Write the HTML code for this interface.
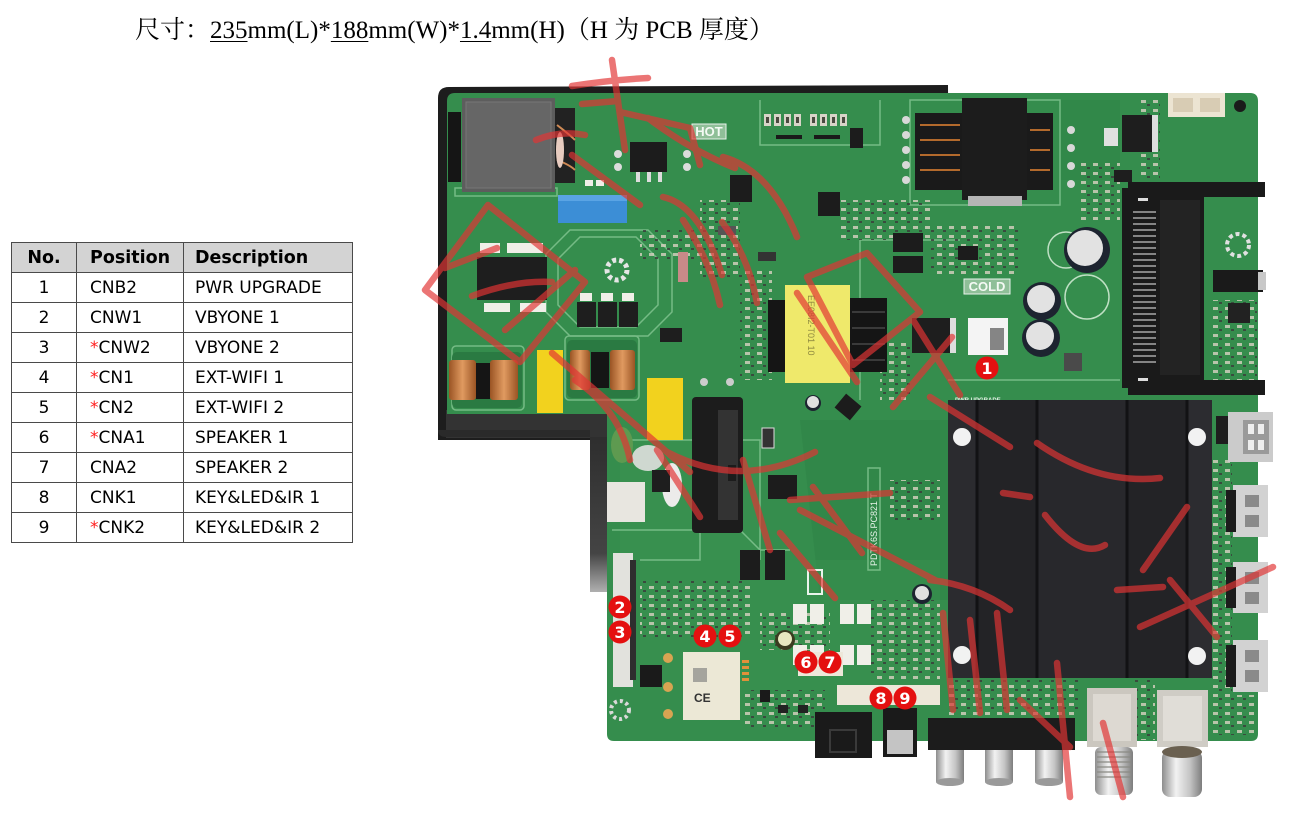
<!DOCTYPE html>
<html><head><meta charset="utf-8">
<style>
html,body{margin:0;padding:0;background:#fff;}
body{width:1292px;height:814px;position:relative;overflow:hidden;}
.title{position:absolute;left:135px;top:14px;font-family:"Liberation Serif","Noto Serif CJK SC",serif;font-size:25px;color:#000;white-space:nowrap;line-height:34px;}
.title u{text-decoration:underline;text-underline-offset:3px;text-decoration-thickness:1px;}
table{position:absolute;left:11px;top:242px;border-collapse:collapse;table-layout:fixed;font-family:"DejaVu Sans","Liberation Sans",sans-serif;font-size:17px;color:#000;}
td,th{border:1px solid #4a4a4a;padding:0;height:29px;white-space:nowrap;}
th{background:#d3d3d3;font-weight:bold;text-align:left;height:29px;font-size:17.5px;}
td.n,th.n{text-align:center;}
td.p,th.p{padding-left:13px;}
td.d,th.d{padding-left:11px;}
.r{color:#ff2020;}
</style></head><body>
<div class="title">尺寸：<u>235</u>mm(L)*<u>188</u>mm(W)*<u>1.4</u>mm(H)（H 为 PCB 厚度）</div>
<table>
<colgroup><col style="width:65px"><col style="width:107px"><col style="width:169px"></colgroup>
<tr><th class="n">No.</th><th class="p">Position</th><th class="d">Description</th></tr>
<tr><td class="n">1</td><td class="p">CNB2</td><td class="d">PWR UPGRADE</td></tr>
<tr><td class="n">2</td><td class="p">CNW1</td><td class="d">VBYONE 1</td></tr>
<tr><td class="n">3</td><td class="p"><span class="r">*</span>CNW2</td><td class="d">VBYONE 2</td></tr>
<tr><td class="n">4</td><td class="p"><span class="r">*</span>CN1</td><td class="d">EXT-WIFI 1</td></tr>
<tr><td class="n">5</td><td class="p"><span class="r">*</span>CN2</td><td class="d">EXT-WIFI 2</td></tr>
<tr><td class="n">6</td><td class="p"><span class="r">*</span>CNA1</td><td class="d">SPEAKER 1</td></tr>
<tr><td class="n">7</td><td class="p">CNA2</td><td class="d">SPEAKER 2</td></tr>
<tr><td class="n">8</td><td class="p">CNK1</td><td class="d">KEY&amp;LED&amp;IR 1</td></tr>
<tr><td class="n">9</td><td class="p"><span class="r">*</span>CNK2</td><td class="d">KEY&amp;LED&amp;IR 2</td></tr>
</table>

<svg width="1292" height="814" style="position:absolute;left:0;top:0" xmlns="http://www.w3.org/2000/svg">
<defs>
<pattern id="smd" width="12" height="9" patternUnits="userSpaceOnUse">
<rect x="1" y="1" width="5" height="3" fill="#d9d2c2"/>
<rect x="7" y="5" width="3" height="2" fill="#3a3a3a"/>
</pattern>
<pattern id="smd2" width="8" height="14" patternUnits="userSpaceOnUse">
<rect x="1" y="1" width="5" height="8" fill="#e6e2d6"/>
<rect x="2" y="3" width="3" height="4" fill="#6a5a3a"/>
</pattern>
<linearGradient id="silv" x1="0" x2="1" y1="0" y2="0">
<stop offset="0" stop-color="#8d8d8d"/><stop offset=".35" stop-color="#f2f2f2"/><stop offset=".7" stop-color="#c4c4c4"/><stop offset="1" stop-color="#7d7d7d"/>
</linearGradient>
<linearGradient id="strip" x1="0" x2="0" y1="0" y2="1">
<stop offset="0" stop-color="#2e2e2e"/><stop offset=".75" stop-color="#444"/><stop offset="1" stop-color="#b0b0b0"/>
</linearGradient>
<linearGradient id="copper" x1="0" x2="1">
<stop offset="0" stop-color="#9a5424"/><stop offset=".5" stop-color="#e09a60"/><stop offset="1" stop-color="#9a5424"/>
</linearGradient>
</defs>

<!-- black backing plate -->
<path d="M438,98 Q438,87 449,87 L948,85 L950,420 L607,420 L607,440 L438,440 Z" fill="#1d1d1d"/>
<rect x="446" y="410" width="161" height="28" fill="#333"/>
<path d="M590,437 L607,437 L607,592 L590,592 Z" fill="url(#strip)"/>
<path d="M438,430 Q438,437 446,437 L590,437 L590,430 Z" fill="#2a2a2a"/>

<!-- green PCB -->
<path d="M447,101 Q447,93 455,93 L1250,93 Q1258,93 1258,101 L1258,734 Q1258,741 1251,741 L614,741 Q607,741 607,734 L607,414 L447,414 Z" fill="#358d4d"/>
<!-- plane shading -->
<path d="M620,430 L760,430 L760,560 L620,560 Z" fill="#3a9352" opacity=".6"/>
<path d="M800,420 L948,420 L948,600 L820,600 Z" fill="#2e8347" opacity=".6"/>
<path d="M640,560 L940,560 L940,690 L640,690 Z" fill="#39914f" opacity=".5"/>
<path d="M1060,100 L1120,100 L1120,180 L1060,180 Z" fill="#2f8547" opacity=".6"/>
<!-- silkscreen outlines -->
<g fill="none" stroke="#86c794" stroke-width="1.5" opacity=".8">
<polygon points="580,237 636,237 658,259 658,305 636,327 580,327 558,305 558,259"/>
<polygon points="570,230 648,230 672,254 672,312 648,336 570,336 546,312 546,254"/>
<rect x="455" y="188" width="102" height="8"/>
<rect x="452" y="346" width="72" height="64" rx="4"/>
<rect x="565" y="336" width="74" height="64" rx="4"/>
<polyline points="620,440 760,440 760,560"/>
<polyline points="612,530 740,530 760,550 790,550"/>
<polyline points="860,400 860,240 960,240"/>
<rect x="910" y="100" width="150" height="105"/>
<polyline points="760,100 760,145 880,145 880,100"/>
<polyline points="700,480 700,560 640,560"/>
<rect x="868" y="468" width="12" height="102"/>
<polyline points="948,380 1120,380"/>
</g>
<text x="0" y="0" transform="translate(877,566) rotate(-90)" font-family="Liberation Sans, sans-serif" font-size="9" fill="#e8f4ea">PDTK6S.PC821 T</text>

<!-- resistor banks top middle -->
<g fill="#d8d4c8">
<rect x="764" y="114" width="7" height="12"/><rect x="774" y="114" width="7" height="12"/><rect x="784" y="114" width="7" height="12"/><rect x="794" y="114" width="7" height="12"/>
<rect x="810" y="114" width="7" height="12"/><rect x="820" y="114" width="7" height="12"/><rect x="830" y="114" width="7" height="12"/><rect x="840" y="114" width="7" height="12"/>
</g>
<g fill="#4a4a40"><rect x="766" y="117" width="3" height="6"/><rect x="776" y="117" width="3" height="6"/><rect x="786" y="117" width="3" height="6"/><rect x="796" y="117" width="3" height="6"/><rect x="812" y="117" width="3" height="6"/><rect x="822" y="117" width="3" height="6"/><rect x="832" y="117" width="3" height="6"/><rect x="842" y="117" width="3" height="6"/></g>
<rect x="776" y="135" width="26" height="4" fill="#1a1a1a"/><rect x="814" y="135" width="26" height="4" fill="#1a1a1a"/>

<!-- SMD texture regions -->
<g opacity=".8">
<rect x="740" y="270" width="32" height="110" fill="url(#smd)"/>
<rect x="880" y="340" width="30" height="60" fill="url(#smd)"/>
<rect x="840" y="200" width="90" height="40" fill="url(#smd)"/>
<rect x="930" y="225" width="90" height="50" fill="url(#smd)"/>
<rect x="1080" y="160" width="40" height="60" fill="url(#smd)"/>
<rect x="1212" y="300" width="45" height="90" fill="url(#smd)"/>
<rect x="1212" y="460" width="20" height="250" fill="url(#smd)"/>
<rect x="640" y="580" width="110" height="60" fill="url(#smd)"/>
<rect x="760" y="610" width="70" height="40" fill="url(#smd)"/>
<rect x="745" y="690" width="80" height="40" fill="url(#smd)"/>
<rect x="870" y="600" width="70" height="80" fill="url(#smd)"/>
<rect x="640" y="230" width="60" height="30" fill="url(#smd)"/>
<rect x="700" y="200" width="40" height="80" fill="url(#smd)"/>
<rect x="890" y="480" width="50" height="40" fill="url(#smd)"/>
<rect x="1140" y="100" width="20" height="80" fill="url(#smd)"/>
<rect x="948" y="680" width="130" height="35" fill="url(#smd)"/>
<rect x="1135" y="680" width="20" height="60" fill="url(#smd)"/>
<rect x="1210" y="695" width="45" height="40" fill="url(#smd)"/>
</g>
<!-- white power pads -->
<g fill="#f0efe8">
<rect x="793" y="604" width="14" height="20"/><rect x="810" y="604" width="14" height="20"/><rect x="840" y="604" width="14" height="20"/><rect x="857" y="604" width="14" height="20"/>
<rect x="793" y="645" width="14" height="20"/><rect x="810" y="645" width="14" height="20"/><rect x="840" y="645" width="14" height="20"/><rect x="857" y="645" width="14" height="20"/>
<rect x="480" y="243" width="20" height="10"/><rect x="507" y="243" width="36" height="10"/>
<rect x="484" y="303" width="26" height="9"/><rect x="520" y="303" width="26" height="9"/>
<rect x="580" y="293" width="12" height="8"/><rect x="601" y="293" width="12" height="8"/><rect x="622" y="293" width="12" height="8"/>
<rect x="585" y="180" width="8" height="6"/><rect x="596" y="180" width="8" height="6"/>
</g>

<!-- big inductor top-left -->
<rect x="448" y="112" width="13" height="70" fill="#151515"/>
<rect x="462" y="98" width="93" height="94" fill="#5d5d5d"/>
<rect x="466" y="102" width="85" height="86" fill="#666" stroke="#777"/>
<rect x="555" y="108" width="20" height="75" fill="#222"/>
<path d="M557,125 Q570,135 575,140 M557,160 Q570,165 575,170" stroke="#d08a55" stroke-width="2" fill="none"/>
<ellipse cx="560" cy="150" rx="4" ry="18" fill="#e8ccc0"/>
<!-- blue cap -->
<rect x="558" y="195" width="69" height="28" fill="#3c8ed6"/>
<rect x="558" y="195" width="69" height="6" fill="#5aa4e4"/>
<!-- HOT label -->
<rect x="692" y="124" width="34" height="15" fill="#8fbf98" stroke="#e8f2ea"/>
<text x="709" y="136" text-anchor="middle" font-family="Liberation Sans, sans-serif" font-weight="bold" font-size="13" fill="#f4faf4">HOT</text>
<!-- chips -->
<rect x="630" y="142" width="37" height="30" fill="#1c1c1c"/>
<rect x="636" y="172" width="4" height="10" fill="#ddd"/><rect x="647" y="172" width="4" height="10" fill="#ddd"/><rect x="658" y="172" width="4" height="10" fill="#ddd"/>
<circle cx="618" cy="154" r="4" fill="#dcdcdc"/><circle cx="618" cy="167" r="4" fill="#dcdcdc"/><circle cx="687" cy="154" r="4" fill="#dcdcdc"/><circle cx="687" cy="167" r="4" fill="#dcdcdc"/>
<rect x="730" y="175" width="22" height="27" fill="#1c1c1c"/>
<rect x="818" y="192" width="22" height="24" fill="#1c1c1c"/>
<rect x="850" y="128" width="13" height="20" fill="#1c1c1c"/>
<rect x="893" y="233" width="30" height="19" fill="#1c1c1c"/>
<rect x="893" y="256" width="30" height="17" fill="#1c1c1c"/>
<rect x="958" y="246" width="20" height="14" fill="#1c1c1c"/>
<rect x="477" y="257" width="70" height="43" fill="#1e1e1e"/>
<rect x="577" y="302" width="19" height="25" fill="#1e1e1e"/>
<rect x="598" y="302" width="19" height="25" fill="#1e1e1e"/>
<rect x="619" y="302" width="19" height="25" fill="#1e1e1e"/>
<circle cx="617" cy="270" r="10" fill="none" stroke="#e6e6e6" stroke-width="5" stroke-dasharray="4 3"/>
<rect x="660" y="328" width="22" height="14" fill="#1e1e1e"/>
<rect x="678" y="252" width="10" height="30" fill="#c98a88"/>
<rect x="718" y="226" width="18" height="9" fill="#555"/>
<rect x="758" y="252" width="18" height="9" fill="#333"/>
<!-- chokes -->
<rect x="452" y="352" width="70" height="56" rx="5" fill="#2a7a42"/>
<rect x="449" y="360" width="27" height="40" rx="3" fill="url(#copper)"/>
<rect x="476" y="363" width="14" height="36" fill="#151515"/>
<rect x="490" y="360" width="28" height="40" rx="3" fill="url(#copper)"/>
<rect x="567" y="340" width="70" height="58" rx="5" fill="#2a7a42"/>
<rect x="570" y="350" width="20" height="40" rx="3" fill="url(#copper)"/>
<rect x="591" y="352" width="18" height="36" fill="#151515"/>
<rect x="610" y="350" width="25" height="40" rx="3" fill="url(#copper)"/>
<!-- yellow caps -->
<rect x="537" y="350" width="26" height="63" fill="#f2d21e"/>
<rect x="647" y="378" width="36" height="62" fill="#f2d21e"/>
<!-- white blobs / connectors left-middle -->
<ellipse cx="648" cy="458" rx="16" ry="13" fill="#cfd8d0"/>
<ellipse cx="672" cy="485" rx="10" ry="22" fill="#ecebea"/>
<ellipse cx="622" cy="445" rx="11" ry="18" fill="#5e9a50"/>
<rect x="607" y="482" width="38" height="40" fill="#e8e6e0"/>
<rect x="652" y="470" width="18" height="22" fill="#1e1e1e"/>
<!-- lying electrolytic -->
<rect x="692" y="397" width="51" height="136" rx="4" fill="#1c1c1c"/>
<rect x="718" y="410" width="20" height="110" fill="#333"/>
<circle cx="704" cy="382" r="4" fill="#ccc"/><circle cx="730" cy="382" r="4" fill="#ccc"/>
<rect x="762" y="428" width="12" height="20" fill="#333" stroke="#ddd"/>
<rect x="768" y="475" width="29" height="24" fill="#1c1c1c"/>
<rect x="740" y="550" width="20" height="30" fill="#1c1c1c"/>
<rect x="765" y="550" width="20" height="30" fill="#1c1c1c"/>
<rect x="838" y="398" width="20" height="18" fill="#1c1c1c" transform="rotate(40 848 407)"/>
<rect x="728" y="465" width="8" height="16" fill="#1c1c1c"/>
<!-- yellow transformer -->
<rect x="768" y="300" width="17" height="72" fill="#151515"/>
<rect x="850" y="298" width="37" height="74" fill="#151515"/>
<g stroke="#3a3a3a" stroke-width="2"><line x1="852" y1="312" x2="885" y2="312"/><line x1="852" y1="328" x2="885" y2="328"/><line x1="852" y1="344" x2="885" y2="344"/><line x1="852" y1="360" x2="885" y2="360"/></g>
<rect x="785" y="285" width="65" height="98" fill="#efe96b"/>
<text x="0" y="0" transform="translate(808,295) rotate(90)" font-family="Liberation Sans, sans-serif" font-size="9" fill="#8f8a40">EE08I2-T01 10</text>
<!-- chip near COLD, QR label -->
<rect x="912" y="318" width="38" height="35" fill="#1e1e1e"/>
<rect x="950" y="318" width="6" height="35" fill="#ddd"/>
<rect x="968" y="318" width="40" height="37" fill="#f4f4f4"/>
<rect x="990" y="328" width="14" height="22" fill="#555" opacity=".7"/>
<rect x="964" y="279" width="46" height="15" fill="#8fbf98" stroke="#e8f2ea"/>
<text x="987" y="291" text-anchor="middle" font-family="Liberation Sans, sans-serif" font-weight="bold" font-size="13" fill="#f4faf4">COLD</text>
<text x="955" y="402" font-family="Liberation Sans, sans-serif" font-weight="bold" font-size="6" fill="#e6f2e8">PWR UPGRADE</text>
<!-- top transformer -->
<rect x="915" y="113" width="47" height="77" fill="#1a1a1a"/>
<rect x="1027" y="113" width="26" height="77" fill="#1a1a1a"/>
<g stroke="#b36a2c" stroke-width="2"><line x1="920" y1="125" x2="960" y2="125"/><line x1="920" y1="140" x2="960" y2="140"/><line x1="920" y1="155" x2="960" y2="155"/><line x1="920" y1="170" x2="960" y2="170"/><line x1="1030" y1="130" x2="1050" y2="130"/><line x1="1030" y1="150" x2="1050" y2="150"/><line x1="1030" y1="170" x2="1050" y2="170"/></g>
<rect x="962" y="98" width="65" height="102" fill="#1c1c1c"/>
<rect x="968" y="196" width="54" height="10" fill="#b5b5b5"/>
<g fill="#d8d8d8"><circle cx="906" cy="120" r="4"/><circle cx="906" cy="135" r="4"/><circle cx="906" cy="150" r="4"/><circle cx="906" cy="165" r="4"/><circle cx="906" cy="180" r="4"/><circle cx="1071" cy="130" r="4"/><circle cx="1071" cy="148" r="4"/><circle cx="1071" cy="166" r="4"/><circle cx="1071" cy="184" r="4"/></g>
<!-- top right -->
<rect x="1168" y="93" width="57" height="24" fill="#ece4d2"/>
<rect x="1173" y="98" width="20" height="14" fill="#d8ccb4"/><rect x="1200" y="98" width="20" height="14" fill="#d8ccb4"/>
<circle cx="1240" cy="106" r="6" fill="#1a1a1a"/>
<rect x="1122" y="115" width="31" height="37" fill="#1e1e1e"/>
<rect x="1152" y="115" width="6" height="37" fill="#ddd"/>
<rect x="1104" y="128" width="14" height="18" fill="#e0e0e0"/>
<rect x="1114" y="170" width="18" height="12" fill="#1e1e1e"/>
<rect x="1228" y="303" width="22" height="20" fill="#222"/>
<circle cx="1238" cy="245" r="11" fill="none" stroke="#e0e0e0" stroke-width="4" stroke-dasharray="4 3"/>
<!-- electrolytic caps -->
<circle cx="1087" cy="297" r="22" fill="none" stroke="#bfe0c4" stroke-width="1.5"/>
<circle cx="1066" cy="250" r="18" fill="none" stroke="#bfe0c4" stroke-width="1.5"/>
<circle cx="1087" cy="250" r="23" fill="#1d2430"/><circle cx="1085" cy="248" r="18" fill="#e2e2e2"/>
<circle cx="1042" cy="301" r="19" fill="#1d2430"/><circle cx="1041" cy="299" r="14" fill="#e2e2e2"/>
<circle cx="1041" cy="338" r="19" fill="#1d2430"/><circle cx="1040" cy="336" r="14" fill="#e2e2e2"/>
<rect x="1064" y="353" width="18" height="18" fill="#4a4a4a"/>
<circle cx="813" cy="403" r="8" fill="#1d2430"/><circle cx="813" cy="402" r="6" fill="#e0e0e0"/>
<circle cx="922" cy="594" r="10" fill="#1d2430"/><circle cx="922" cy="593" r="7" fill="#e0e0e0"/>
<circle cx="785" cy="640" r="10" fill="#3b3b20"/><circle cx="785" cy="639" r="7" fill="#e8e8c0"/>
<!-- CI slot -->
<rect x="1128" y="182" width="137" height="15" fill="#1a1a1a"/>
<rect x="1128" y="380" width="137" height="15" fill="#1a1a1a"/>
<rect x="1122" y="188" width="82" height="200" fill="#1a1a1a"/>
<rect x="1160" y="200" width="40" height="175" fill="#232323"/>
<g stroke="#a8a8a8" stroke-width="1.6">
<line x1="1133" y1="212" x2="1156" y2="212"/><line x1="1133" y1="218" x2="1156" y2="218"/><line x1="1133" y1="224" x2="1156" y2="224"/><line x1="1133" y1="230" x2="1156" y2="230"/><line x1="1133" y1="236" x2="1156" y2="236"/><line x1="1133" y1="242" x2="1156" y2="242"/><line x1="1133" y1="248" x2="1156" y2="248"/><line x1="1133" y1="254" x2="1156" y2="254"/><line x1="1133" y1="260" x2="1156" y2="260"/><line x1="1133" y1="266" x2="1156" y2="266"/><line x1="1133" y1="272" x2="1156" y2="272"/><line x1="1133" y1="278" x2="1156" y2="278"/><line x1="1133" y1="284" x2="1156" y2="284"/><line x1="1133" y1="290" x2="1156" y2="290"/><line x1="1133" y1="296" x2="1156" y2="296"/><line x1="1133" y1="302" x2="1156" y2="302"/><line x1="1133" y1="308" x2="1156" y2="308"/><line x1="1133" y1="314" x2="1156" y2="314"/><line x1="1133" y1="320" x2="1156" y2="320"/><line x1="1133" y1="326" x2="1156" y2="326"/><line x1="1133" y1="332" x2="1156" y2="332"/><line x1="1133" y1="338" x2="1156" y2="338"/><line x1="1133" y1="344" x2="1156" y2="344"/><line x1="1133" y1="350" x2="1156" y2="350"/><line x1="1133" y1="356" x2="1156" y2="356"/><line x1="1133" y1="362" x2="1156" y2="362"/>
</g>
<rect x="1138" y="198" width="10" height="3" fill="#ddd"/><rect x="1138" y="378" width="10" height="3" fill="#ddd"/>
<!-- headphone jack -->
<rect x="1213" y="270" width="50" height="22" fill="#1a1a1a"/>
<rect x="1258" y="272" width="8" height="18" fill="#c8c8c8"/>
<!-- heatsink -->
<rect x="948" y="400" width="264" height="278" fill="#232326"/>
<rect x="948" y="400" width="29" height="278" fill="#2b2b2f"/>
<rect x="1037" y="400" width="90" height="278" fill="#28282c"/>
<rect x="1187" y="400" width="25" height="278" fill="#2c2c30"/>
<g stroke="#121214" stroke-width="3"><line x1="977" y1="400" x2="977" y2="678"/><line x1="1037" y1="400" x2="1037" y2="678"/><line x1="1127" y1="400" x2="1127" y2="678"/><line x1="1187" y1="400" x2="1187" y2="678"/></g>
<g fill="#f2f2f2"><circle cx="962" cy="437" r="9"/><circle cx="1197" cy="437" r="9"/><circle cx="962" cy="655" r="9"/><circle cx="1197" cy="656" r="9"/></g>
<!-- USB / HDMI -->
<rect x="1228" y="412" width="45" height="50" fill="#cbcbcb"/>
<rect x="1243" y="420" width="26" height="34" fill="#9a9a9a"/>
<rect x="1248" y="424" width="6" height="10" fill="#eee"/><rect x="1258" y="424" width="6" height="10" fill="#eee"/><rect x="1248" y="440" width="6" height="10" fill="#eee"/><rect x="1258" y="440" width="6" height="10" fill="#eee"/>
<rect x="1216" y="416" width="12" height="28" fill="#1e1e1e"/>
<g>
<rect x="1233" y="485" width="35" height="52" fill="#d2d2d2"/><rect x="1226" y="490" width="10" height="42" fill="#1c1c1c"/><rect x="1245" y="495" width="14" height="12" fill="#8a8a8a"/><rect x="1245" y="515" width="14" height="12" fill="#8a8a8a"/>
<rect x="1233" y="562" width="35" height="51" fill="#d2d2d2"/><rect x="1226" y="567" width="10" height="41" fill="#1c1c1c"/><rect x="1245" y="572" width="14" height="12" fill="#8a8a8a"/><rect x="1245" y="592" width="14" height="12" fill="#8a8a8a"/>
<rect x="1233" y="640" width="35" height="52" fill="#d2d2d2"/><rect x="1226" y="645" width="10" height="42" fill="#1c1c1c"/><rect x="1245" y="650" width="14" height="12" fill="#8a8a8a"/><rect x="1245" y="670" width="14" height="12" fill="#8a8a8a"/>
</g>
<!-- AV bar & RCA -->
<rect x="928" y="718" width="147" height="32" fill="#1c1c1c"/>
<rect x="936" y="750" width="28" height="32" fill="url(#silv)"/><ellipse cx="950" cy="782" rx="14" ry="4" fill="#9a9a9a"/>
<rect x="985" y="750" width="28" height="32" fill="url(#silv)"/><ellipse cx="999" cy="782" rx="14" ry="4" fill="#9a9a9a"/>
<rect x="1035" y="750" width="28" height="32" fill="url(#silv)"/><ellipse cx="1049" cy="782" rx="14" ry="4" fill="#9a9a9a"/>
<!-- coax -->
<rect x="1087" y="688" width="50" height="59" fill="#cbc7bf"/>
<rect x="1093" y="694" width="38" height="47" fill="#ddd9d2"/>
<rect x="1095" y="747" width="38" height="48" rx="6" fill="url(#silv)"/>
<g stroke="#8a8a84" stroke-width="1.2"><line x1="1097" y1="752" x2="1131" y2="752"/><line x1="1097" y1="757" x2="1131" y2="757"/><line x1="1097" y1="762" x2="1131" y2="762"/><line x1="1097" y1="767" x2="1131" y2="767"/><line x1="1097" y1="772" x2="1131" y2="772"/><line x1="1097" y1="777" x2="1131" y2="777"/></g>
<!-- right RCA -->
<rect x="1157" y="690" width="51" height="57" fill="#cfccc5"/>
<rect x="1163" y="696" width="39" height="45" fill="#e0ddd7"/>
<rect x="1162" y="750" width="40" height="47" rx="8" fill="url(#silv)"/>
<ellipse cx="1182" cy="752" rx="20" ry="6" fill="#6a6050"/>
<!-- optical & misc bottom -->
<rect x="815" y="712" width="57" height="46" fill="#1a1a1a"/>
<rect x="830" y="730" width="26" height="22" fill="none" stroke="#3a3a3a" stroke-width="2"/>
<rect x="883" y="708" width="34" height="49" fill="#1a1a1a"/>
<rect x="887" y="730" width="26" height="24" fill="#c4c4c4"/>
<rect x="837" y="685" width="103" height="20" fill="#ede7d9"/>
<rect x="798" y="652" width="45" height="24" fill="#ede7d9"/>
<rect x="808" y="570" width="14" height="24" fill="none" stroke="#eaf4ec" stroke-width="2"/>
<!-- wifi module -->
<rect x="683" y="652" width="57" height="68" fill="#ece8d6"/>
<rect x="693" y="668" width="14" height="14" fill="#777" opacity=".6"/>
<text x="694" y="702" font-family="Liberation Sans, sans-serif" font-size="12" font-weight="bold" fill="#333">CE</text>
<g fill="#d8a452"><circle cx="668" cy="658" r="5"/><circle cx="668" cy="687" r="5"/><circle cx="668" cy="714" r="5"/></g>
<g fill="#e0913a"><rect x="742" y="660" width="7" height="3"/><rect x="742" y="666" width="7" height="3"/><rect x="742" y="672" width="7" height="3"/><rect x="742" y="678" width="7" height="3"/></g>
<!-- vbyone connector -->
<rect x="613" y="553" width="20" height="134" fill="#e2e2dd"/>
<rect x="630" y="560" width="6" height="120" fill="#2e2e2e"/>
<rect x="640" y="665" width="22" height="22" fill="#1a1a1a"/>
<circle cx="620" cy="710" r="9" fill="none" stroke="#d9d9d9" stroke-width="4" stroke-dasharray="3 3"/>
<rect x="760" y="690" width="10" height="12" fill="#1a1a1a"/>
<rect x="778" y="705" width="10" height="8" fill="#222"/><rect x="798" y="705" width="10" height="8" fill="#222"/>

<!-- red watermark -->
<g fill="none" stroke="#e23434" stroke-width="6.5" stroke-linecap="round" stroke-linejoin="round" opacity=".68">
<path d="M612,60 L625,150"/>
<path d="M572,86 Q610,80 648,78"/>
<path d="M582,104 L618,101"/>
<path d="M536,140 Q560,130 585,135"/>
<path d="M620,112 L690,128 L700,165"/>
<path d="M648,118 Q690,150 735,168"/>
<path d="M572,155 L640,205"/>
<path d="M425,290 L488,205 L585,282 L520,362 Z"/>
<path d="M445,268 L497,248"/>
<path d="M472,296 Q515,280 552,282"/>
<path d="M505,330 L575,270"/>
<path d="M552,353 L690,472"/>
<path d="M683,220 Q710,260 720,305"/>
<path d="M722,222 Q748,255 757,303"/>
<path d="M663,197 Q700,205 722,275"/>
<path d="M723,157 Q770,170 797,237"/>
<path d="M807,277 L867,253 L920,312 L853,365 Z"/>
<path d="M797,293 L857,382"/>
<path d="M913,320 L960,395"/>
<path d="M893,407 L952,337"/>
<path d="M667,452 Q740,490 815,452"/>
<path d="M743,460 L770,550"/>
<path d="M800,510 L935,580"/>
<path d="M780,533 L835,598"/>
<path d="M813,487 L862,553"/>
<path d="M657,450 L700,517"/>
<path d="M790,500 L890,493"/>
<path d="M930,397 L1010,447"/>
<path d="M1037,443 Q1097,485 1160,478"/>
<path d="M1003,493 L1030,497"/>
<path d="M1045,515 Q1080,560 1105,545"/>
<path d="M1143,570 L1187,507"/>
<path d="M1117,590 L1163,587"/>
<path d="M1140,627 L1273,567"/>
<path d="M1170,580 L1217,637"/>
<path d="M930,580 Q975,585 1010,610"/>
<path d="M943,613 L953,710"/>
<path d="M970,620 L980,713"/>
<path d="M997,613 L1007,710"/>
<path d="M1020,700 L1070,747"/>
<path d="M1057,663 L1070,797"/>
<path d="M1103,723 L1123,797"/>
<path d="M575,380 Q620,410 630,460"/>
</g>

<!-- numbered badges -->
<g font-family="DejaVu Sans, Liberation Sans, sans-serif" font-weight="bold" font-size="16" fill="#fff" text-anchor="middle">
<circle cx="987" cy="368" r="11.5" fill="#e41010"/><text x="987" y="374">1</text>
<circle cx="620" cy="607" r="11.5" fill="#e41010"/><text x="620" y="613">2</text>
<circle cx="620" cy="632" r="11.5" fill="#e41010"/><text x="620" y="638">3</text>
<circle cx="705" cy="636" r="11.5" fill="#e41010"/><text x="705" y="642">4</text>
<circle cx="730" cy="636" r="11.5" fill="#e41010"/><text x="730" y="642">5</text>
<circle cx="806" cy="662" r="11.5" fill="#e41010"/><text x="806" y="668">6</text>
<circle cx="830" cy="662" r="11.5" fill="#e41010"/><text x="830" y="668">7</text>
<circle cx="881" cy="698" r="11.5" fill="#e41010"/><text x="881" y="704">8</text>
<circle cx="905" cy="698" r="11.5" fill="#e41010"/><text x="905" y="704">9</text>
</g>
</svg>
</body></html>
